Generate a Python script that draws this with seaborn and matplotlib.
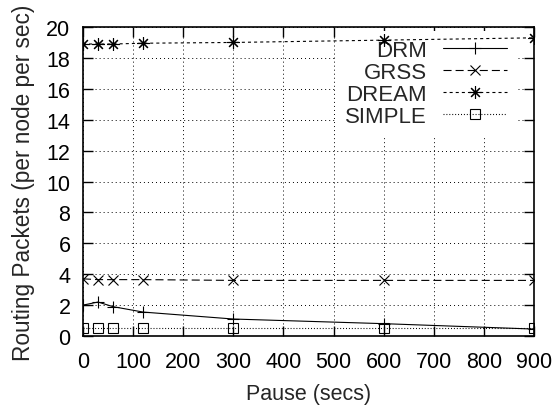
import matplotlib
matplotlib.use("Agg")
import matplotlib.pyplot as plt
import seaborn as sns
import pandas as pd
from matplotlib import font_manager

pause = [0, 30, 60, 120, 300, 600, 900]
drm = [2.0, 2.2, 1.9, 1.55, 1.1, 0.8, 0.45]
grss = [3.7, 3.65, 3.65, 3.65, 3.6, 3.6, 3.6]
dream = [18.9, 18.9, 18.9, 18.95, 19.0, 19.15, 19.3]
simple = [0.5, 0.5, 0.5, 0.5, 0.5, 0.5, 0.5]

series = ["DRM", "GRSS", "DREAM", "SIMPLE"]
values = [drm, grss, dream, simple]
xticks = list(range(0, 1000, 100))
yticks = list(range(0, 22, 2))

sns.set_style("ticks")
names = {f.name for f in font_manager.fontManager.ttflist}
narrow = 'Liberation Sans Narrow' if 'Liberation Sans Narrow' in names else 'Liberation Sans'
plt.rcParams['font.family'] = [narrow, 'DejaVu Sans']
plt.rcParams['lines.scale_dashes'] = False

fig = plt.figure(figsize=(5.55, 4.1), dpi=100)
ax = fig.add_axes([0.1495, 0.178, 0.8126, 0.7537])

styles = {
    "DRM": dict(marker='+', ls='-', ms=9),
    "GRSS": dict(marker='x', ls=(0, (5.8, 2.9)), ms=7),
    "DREAM": dict(marker=(8, 2, 0), ls=(0, (2.2, 2.2)), ms=9),
    "SIMPLE": dict(marker='s', ls=(0, (0.7, 1.4)), ms=7.5),
}

for name, vals in zip(series, values):
    df = pd.DataFrame({"pause": pause, "val": vals})
    st = styles[name]
    sns.lineplot(data=df, x="pause", y="val", ax=ax, color='black', lw=0.8,
                 marker=st['marker'], markersize=st['ms'], markeredgewidth=0.8,
                 markerfacecolor='none', markeredgecolor='black',
                 linestyle=st['ls'], label=name, zorder=3)

ax.set_xlim(0, 900)
ax.set_ylim(0, 20)
ax.set_xticks(xticks)
ax.set_yticks(yticks)
ax.set_axisbelow(True)
ax.grid(True, color='black', ls=(0, (0.7, 2.2)), lw=0.7)
for s in ax.spines.values():
    s.set_visible(True)
    s.set_color('black')
    s.set_linewidth(1.2)
    s.set_zorder(4)
ax.tick_params(direction='in', length=7.5, width=1, top=True, right=True,
               labelsize=15.5, colors='black')
ax.tick_params(axis='x', pad=11)
ax.tick_params(axis='y', pad=9)
ax.set_xlabel("Pause (secs)", fontsize=15.5, labelpad=8)
ax.set_ylabel("Routing Packets (per node per sec)", fontsize=16.3,
              family=['Liberation Sans', 'DejaVu Sans'], labelpad=8)

leg = ax.legend(loc='upper right', bbox_to_anchor=(516 / 555, 1 - 32 / 410),
                bbox_transform=fig.transFigure,
                frameon=True, fancybox=False, markerfirst=False,
                prop={'family': ['Liberation Sans', 'DejaVu Sans'], 'size': 16},
                handlelength=2.9, labelspacing=0.05,
                borderaxespad=0.0, handletextpad=0.7)
leg.get_frame().set_facecolor('white')
leg.get_frame().set_edgecolor('none')
leg.get_frame().set_alpha(1)
leg.set_zorder(2)

fig.savefig("out.png", dpi=100)
